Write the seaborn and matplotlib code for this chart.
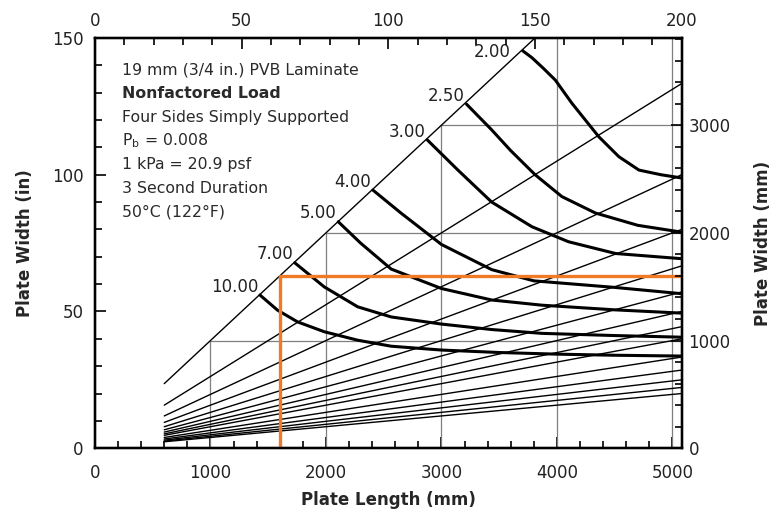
"""
plot.py
-------
Abaque de charge (verre feuilleté PVB 19 mm, 4 côtés appuyés),
redessiné avec seaborn / matplotlib -> out.png
"""

import numpy as np
import pandas as pd
import matplotlib
matplotlib.use('Agg')
import matplotlib.pyplot as plt
from matplotlib.ticker import MultipleLocator
import seaborn as sns

MM_PER_IN = 25.4

# ── 1. Données lues sur l'abaque ─────────────────────────────────────────────
# courbes de charge : longueur (mm) / largeur (in)
len_2_00 = [3704, 3783, 3880, 3986, 4130, 4362, 4536, 4710, 4900, 5080]
wid_2_00 = [145.3, 142.8, 139.0, 134.6, 126.1, 113.9, 106.6, 101.7, 100.0, 98.8]

len_2_50 = [3217, 3435, 3600, 3811, 4043, 4333, 4700, 5080]
wid_2_50 = [125.8, 116.4, 108.8, 100.0, 92.0, 86.0, 81.5, 79.0]

len_3_00 = [2878, 3145, 3435, 3783, 4100, 4507, 5080]
wid_3_00 = [112.7, 101.6, 90.0, 81.0, 75.5, 71.2, 69.3]

len_4_00 = [2406, 2652, 3000, 3435, 3800, 4500, 5080]
wid_4_00 = [94.4, 85.9, 74.5, 65.3, 61.2, 58.8, 56.5]

len_5_00 = [2107, 2300, 2565, 3000, 3435, 3870, 4500, 5080]
wid_5_00 = [82.8, 75.0, 65.5, 58.4, 54.2, 52.3, 50.6, 49.4]

len_7_00 = [1730, 1985, 2275, 2565, 3000, 3435, 3870, 4500, 5080]
wid_7_00 = [67.8, 59.0, 51.7, 48.0, 45.4, 43.4, 42.0, 41.2, 40.6]

len_10_00 = [1429, 1580, 1754, 1985, 2275, 2565, 3000, 3500, 4000, 4500, 5080]
wid_10_00 = [56.0, 50.5, 46.2, 42.6, 39.5, 37.3, 35.9, 35.0, 34.4, 34.0, 33.7]

loads = ['2.00', '2.50', '3.00', '4.00', '5.00', '7.00', '10.00']
curve_len = [len_2_00, len_2_50, len_3_00, len_4_00, len_5_00, len_7_00, len_10_00]
curve_wid = [wid_2_00, wid_2_50, wid_3_00, wid_4_00, wid_5_00, wid_7_00, wid_10_00]

# droites de rapport d'aspect (longueur / largeur)
ratios = [1, 1.5, 2, 2.5, 3, 3.5, 4, 4.5, 5, 6, 7, 8, 9, 10]
ratio_len = [600, 5080]

# grille (mm)
grid_mm = [1000, 2000, 3000, 4000, 5000]

# point de lecture (orange)
sel_len = 1600   # mm
sel_wid = 63     # in

notes = ['19 mm (3/4 in.) PVB Laminate',
         'Nonfactored Load',
         'Four Sides Simply Supported',
         r'P$_{\mathregular{b}}$ = 0.008',
         '1 kPa = 20.9 psf',
         '3 Second Duration',
         '50°C (122°F)']

# ── 2. Mise en forme ─────────────────────────────────────────────────────────
sns.set_theme(style='white')
plt.rcParams['font.family'] = ['DejaVu Sans']
plt.rcParams['mathtext.default'] = 'regular'

x_max = 5080
y_max = 150

fig = plt.figure(figsize=(7.72, 5.20), dpi=100)
ax = fig.add_axes([0.123, 0.138, 0.760, 0.789])
ax.set_xlim(0, x_max)
ax.set_ylim(0, y_max)

# grille limitée sous la diagonale
for g in grid_mm:
    top = min(g / MM_PER_IN, y_max)
    ax.plot([g, g], [0, top], color='#7f7f7f', lw=0.9, zorder=1)
    if g / MM_PER_IN < y_max and g < 4000:
        ax.plot([g, x_max], [g / MM_PER_IN] * 2, color='#7f7f7f', lw=0.9, zorder=1)

# droites de rapport d'aspect
for r in ratios:
    L = np.array(ratio_len, dtype=float)
    sns.lineplot(x=L, y=L / r / MM_PER_IN, ax=ax, color='black', lw=1.0,
                 estimator=None, sort=False, zorder=2)

# courbes de charge
df = pd.concat([pd.DataFrame({'load': lab, 'length': L, 'width': W})
                for lab, L, W in zip(loads, curve_len, curve_wid)])
sns.lineplot(data=df, x='length', y='width', units='load', estimator=None,
             sort=False, color='black', lw=2.2, ax=ax, zorder=3)

for lab, L, W in zip(loads, curve_len, curve_wid):
    off = (-9, -1) if lab == '2.00' else (-1, 6)
    ax.annotate(lab, (L[0], W[0]), xytext=off, textcoords='offset points',
                ha='right', va='center', fontsize=12, color='#222222')

# lecture orange
ax.plot([sel_len, sel_len], [0, sel_wid], color='#ef7b27', lw=2.4, zorder=4)
ax.plot([sel_len, x_max], [sel_wid, sel_wid], color='#ef7b27', lw=2.4, zorder=4)

# bloc de texte
for i, t in enumerate(notes):
    ax.text(0.046, 0.922 - i * 0.0578, t, transform=ax.transAxes,
            fontsize=11.3, va='center', ha='left', color='#2a2a2a',
            fontweight='bold' if i == 1 else 'normal')

# axes principaux
ax.xaxis.set_major_locator(MultipleLocator(1000))
ax.xaxis.set_minor_locator(MultipleLocator(200))
ax.yaxis.set_major_locator(MultipleLocator(50))
ax.yaxis.set_minor_locator(MultipleLocator(10))
ax.set_xlabel('Plate Length (mm)', fontsize=12, fontweight='bold', labelpad=7)
ax.set_ylabel('Plate Width (in)', fontsize=12, fontweight='bold', labelpad=13)

# axes secondaires : pouces en haut, mm à droite
axt = ax.twiny()
axt.set_xlim(0, x_max / MM_PER_IN)
axt.xaxis.set_major_locator(MultipleLocator(50))
axt.xaxis.set_minor_locator(MultipleLocator(10))

axr = ax.twinx()
axr.set_ylim(0, y_max * MM_PER_IN)
axr.yaxis.set_major_locator(MultipleLocator(1000))
axr.yaxis.set_minor_locator(MultipleLocator(200))
axr.set_ylabel('Plate Width (mm)', fontsize=12, fontweight='bold', labelpad=17)

for a in (ax, axt, axr):
    a.tick_params(which='both', direction='in', width=1.2, colors='black',
                  labelsize=12, labelcolor='#222222')
    a.tick_params(which='major', length=8, pad=5)
    a.tick_params(which='minor', length=5)
    for s in a.spines.values():
        s.set_linewidth(1.6)
        s.set_color('black')
    a.grid(False)

ax.tick_params(top=False, right=False)
ax.tick_params(axis='x', which='major', pad=11)
ax.tick_params(axis='y', which='major', pad=8)
axt.tick_params(bottom=False, left=False, right=False)
axt.tick_params(axis='x', which='major', pad=6)
axr.tick_params(left=False, top=False, bottom=False)

fig.savefig('out.png', dpi=100)
print("✅ Abaque -> out.png")
